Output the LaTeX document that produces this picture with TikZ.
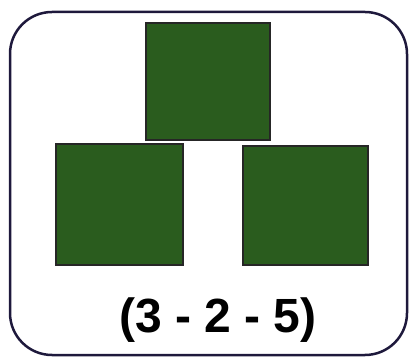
\documentclass[tikz,border=0pt]{standalone}
\usepackage{fontspec}
\setmainfont{Liberation Sans}
\definecolor{leaf}{RGB}{42,92,30}
\definecolor{frame}{RGB}{30,25,60}
\begin{document}
\begin{tikzpicture}[x=1pt,y=-1pt,
  tile/.style={draw=black!85,line width=2.5pt,fill=leaf}]
\useasboundingbox (0,0) rectangle (410,358);
\draw[frame,line width=2.5pt,rounded corners=42pt] (10,12) rectangle (407,355);
\draw[tile] (146,23) rectangle (270,140);
\draw[tile] (56,144) rectangle (183,265);
\draw[tile] (243,146) rectangle (368,265);
\node[font=\fontsize{48}{50}\selectfont\bfseries,anchor=base] (lbl) at (218,333) {(3 - 2 - 5)};
\end{tikzpicture}
\end{document}
